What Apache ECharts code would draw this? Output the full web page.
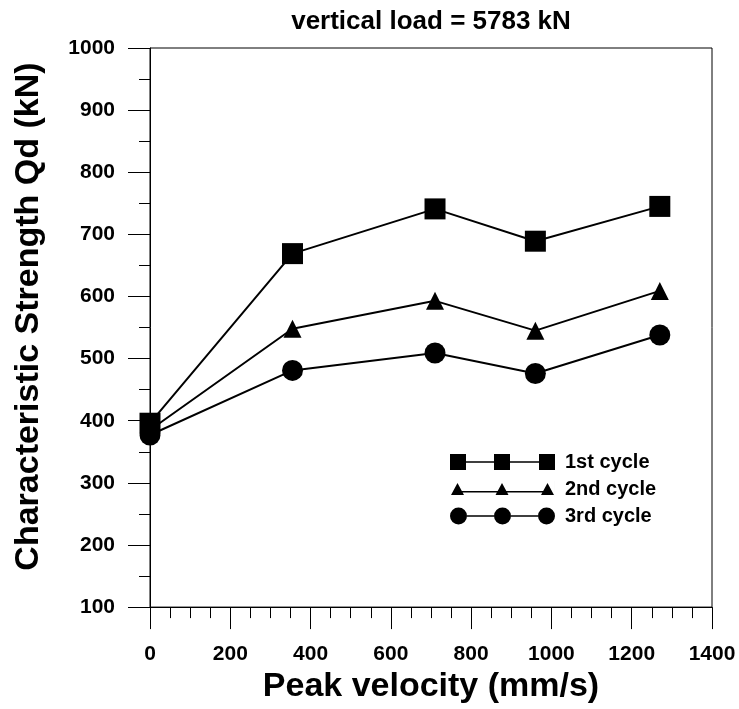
<!DOCTYPE html>
<html>
<head>
<meta charset="utf-8">
<title>Characteristic Strength vs Peak Velocity</title>
<script src="https://cdn.jsdelivr.net/npm/echarts@6/dist/echarts.min.js"></script>
<style>
  html, body { margin: 0; padding: 0; background: #fff; overflow: hidden; }
  #chart { width: 739px; height: 709px; }
</style>
</head>
<body>
<div id="chart"></div>
<script>
// Peak velocity of each test (mm/s)
const velocity = [0, 355, 710, 960, 1270];
// Characteristic strength Qd (kN) per loading cycle
const cycle1 = [396, 669, 741, 689, 745];
const cycle2 = [385, 548, 593, 545, 609];
const cycle3 = [377, 481, 509, 476, 538];

const seriesNames = ['1st cycle', '2nd cycle', '3rd cycle'];
const titleText = 'vertical load = 5783 kN';
const xTitle = 'Peak velocity (mm/s)';
const yTitle = 'Characteristic Strength Qd (kN)';

const FONT = '"Liberation Sans", Arial, Helvetica, sans-serif';

function pairs(ys) {
  return velocity.map((v, i) => [v, ys[i]]);
}

// Legend glyphs: marker - line - marker - line - marker
const iconSquare = 'path://M0,0.5H16V16.5H0Z M16,7.75H44V9.25H16Z M44,0.5H60V16.5H44Z M60,7.75H89V9.25H60Z M89,0.5H105V16.5H89Z M0,0H0.01V17H0Z';
const iconTriangle = 'path://M1,14.5L7.5,2.5L14,14.5Z M7.5,10.5H52V12H7.5Z M45.5,14.5L52,2.5L58.5,14.5Z M52,10.5H97.5V12H52Z M91,14.5L97.5,2.5L104,14.5Z M0,0H0.01V17H0Z M104.99,0H105V17H104.99Z';
const iconCircle = 'path://M0,8.5A8.5,8.5 0 1,0 17,8.5A8.5,8.5 0 1,0 0,8.5Z M17,7.75H44V9.25H17Z M44,8.5A8.5,8.5 0 1,0 61,8.5A8.5,8.5 0 1,0 44,8.5Z M61,7.75H88V9.25H61Z M88,8.5A8.5,8.5 0 1,0 105,8.5A8.5,8.5 0 1,0 88,8.5Z';

const lineSeries = (name, ys, symbol, size) => ({
  name: name,
  type: 'line',
  data: pairs(ys),
  symbol: symbol,
  symbolSize: size,
  lineStyle: { color: '#000', width: 2 },
  itemStyle: { color: '#000' },
  z: 3
});

const plainNumber = v => String(v);

const chart = echarts.init(document.getElementById('chart'), null, { renderer: 'canvas' });
chart.setOption({
  animation: false,
  backgroundColor: '#fff',
  title: {
    text: titleText,
    left: 431,
    top: 9,
    textAlign: 'center',
    padding: 0,
    textStyle: { fontFamily: FONT, fontWeight: 'bold', fontSize: 26, color: '#000' }
  },
  grid: {
    left: 150, right: 27, top: 48, bottom: 97,
    show: true, borderColor: '#000', borderWidth: 1, backgroundColor: 'transparent'
  },
  legend: {
    orient: 'vertical',
    left: 450,
    top: 452,
    padding: 0,
    itemWidth: 105,
    itemHeight: 17,
    itemGap: 7,
    selectedMode: false,
    textStyle: { fontFamily: FONT, fontWeight: 'bold', fontSize: 20, color: '#000', padding: [0, 0, 0, 5] },
    data: [
      { name: seriesNames[0], icon: iconSquare },
      { name: seriesNames[1], icon: iconTriangle },
      { name: seriesNames[2], icon: iconCircle }
    ]
  },
  xAxis: {
    type: 'value',
    min: 0, max: 1400, interval: 200,
    name: xTitle,
    nameLocation: 'middle',
    nameGap: 58,
    nameTextStyle: { fontFamily: FONT, fontWeight: 'bold', fontSize: 34, color: '#000' },
    axisLine: { show: true, lineStyle: { color: '#000', width: 1 } },
    axisTick: { show: true, inside: false, length: 22, lineStyle: { color: '#000', width: 1 } },
    minorTick: { show: true, splitNumber: 4, length: 11, lineStyle: { color: '#000', width: 1 } },
    splitLine: { show: false },
    axisLabel: { margin: 37, formatter: plainNumber, fontFamily: FONT, fontWeight: 'bold', fontSize: 21, color: '#000' }
  },
  yAxis: {
    type: 'value',
    min: 100, max: 1000, interval: 100,
    name: yTitle,
    nameLocation: 'middle',
    nameGap: 104,
    nameTextStyle: { fontFamily: FONT, fontWeight: 'bold', fontSize: 34, color: '#000', padding: [0, 0, 0, 22] },
    axisLine: { show: true, lineStyle: { color: '#000', width: 1 } },
    axisTick: { show: true, inside: false, length: 22, lineStyle: { color: '#000', width: 1 } },
    minorTick: { show: true, splitNumber: 2, length: 11, lineStyle: { color: '#000', width: 1 } },
    splitLine: { show: false },
    axisLabel: { margin: 35, formatter: plainNumber, fontFamily: FONT, fontWeight: 'bold', fontSize: 21, color: '#000' }
  },
  series: [
    lineSeries(seriesNames[0], cycle1, 'rect', 21),
    lineSeries(seriesNames[1], cycle2, 'triangle', 18),
    lineSeries(seriesNames[2], cycle3, 'circle', 21)
  ]
});
</script>
</body>
</html>
